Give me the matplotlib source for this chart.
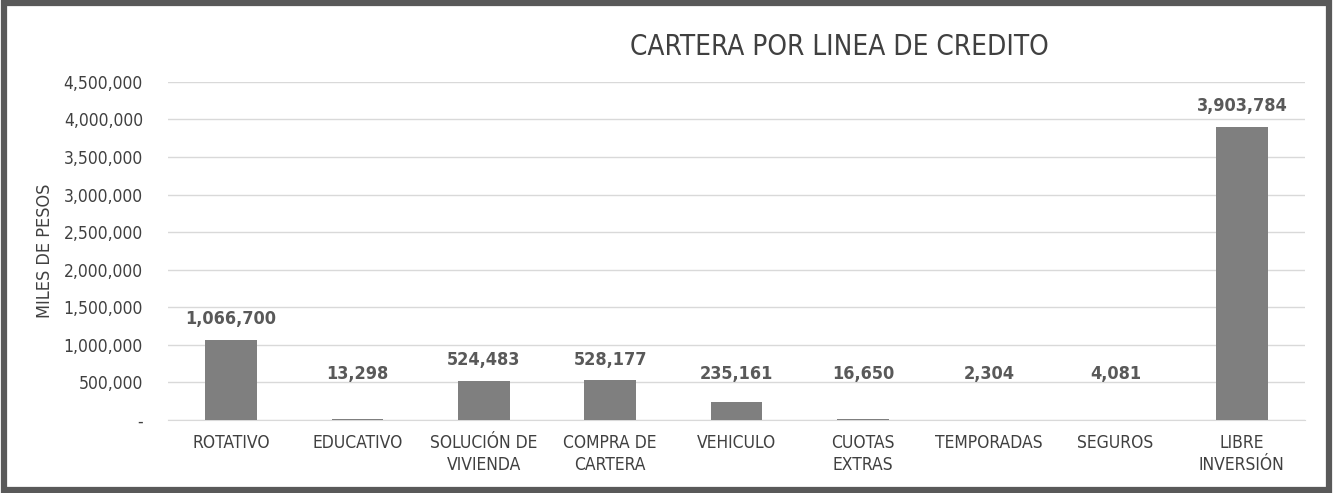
import matplotlib
matplotlib.use("Agg")
import matplotlib.pyplot as plt
from matplotlib.patches import Rectangle
from matplotlib.ticker import FuncFormatter

categories = ["ROTATIVO", "EDUCATIVO", "SOLUCIÓN DE\nVIVIENDA", "COMPRA DE\nCARTERA",
              "VEHICULO", "CUOTAS\nEXTRAS", "TEMPORADAS", "SEGUROS", "LIBRE\nINVERSIÓN"]
values = [1066700, 13298, 524483, 528177, 235161, 16650, 2304, 4081, 3903784]
yticks = [0, 500000, 1000000, 1500000, 2000000, 2500000, 3000000, 3500000, 4000000, 4500000]

plt.rcParams['font.family'] = ["DejaVu Sans"]
plt.rcParams['font.stretch'] = "condensed"
TXT = "#404040"

fig = plt.figure(figsize=(13.33, 4.93), dpi=100)
ax = fig.add_axes([0.126, 0.148, 0.853, 0.686])

x = list(range(len(categories)))
ax.bar(x, values, width=0.41, color="#7f7f7f", zorder=3)
for xi, v in zip(x, values):
    ax.text(xi, max(v, 340000) + 275000, f"{v:,}", ha="center", va="center", fontsize=13,
            fontweight="bold", color="#595959", fontstretch="condensed")

ax.set_xlim(-0.5, len(categories) - 0.5)
ax.set_ylim(0, 4500000)
ax.set_yticks(yticks)
ax.yaxis.set_major_formatter(FuncFormatter(lambda v, p: "-" if v == 0 else f"{int(v):,}"))
ax.grid(axis="y", color="#d9d9d9", linewidth=1, zorder=0)
ax.set_xticks(x)
ax.set_xticklabels(categories, fontsize=12.5, color=TXT, linespacing=1.3)
ax.tick_params(axis="y", labelsize=12.5, colors=TXT, length=0, pad=18)
ax.tick_params(axis="x", length=0, pad=10, colors=TXT)
for s in ax.spines.values():
    s.set_visible(False)
ax.spines["bottom"].set_visible(True)
ax.spines["bottom"].set_color("#d9d9d9")

ax.set_ylabel("MILES DE PESOS", fontsize=13, color=TXT)
ax.yaxis.set_label_coords(-0.1, 0.5)
fig.text(0.63, 0.905, "CARTERA POR LINEA DE CREDITO", ha="center", va="center",
         fontsize=20, color=TXT)

fig.patches.append(Rectangle((0.003, 0.006), 0.994, 0.988, transform=fig.transFigure,
                             fill=False, edgecolor="#595959", linewidth=4.5))

fig.savefig("out.png", dpi=100)
